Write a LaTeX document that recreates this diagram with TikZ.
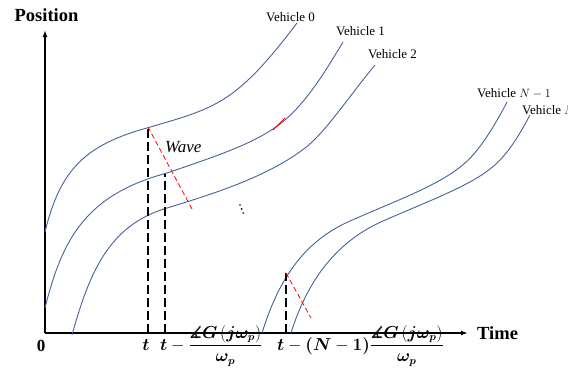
\documentclass[tikz,border=0pt]{standalone}
\usepackage{amsmath,amssymb,bm}
\usepackage{fontspec}
\setmainfont{Liberation Serif}
\usetikzlibrary{arrows.meta}
\definecolor{vblue}{RGB}{68,98,152}
\begin{document}
\begin{tikzpicture}[x=1pt,y=-1pt,
  veh/.style={vblue, line width=0.9pt},
  guide/.style={black, line width=1.5pt, dash pattern=on 9pt off 4pt},
  wavedash/.style={red, line width=0.8pt, dash pattern=on 5pt off 3pt},
  axisline/.style={black, line width=1.5pt, -{Latex[length=7pt,width=5pt]}},
  vlabel/.style={font=\fontsize{13}{15}\selectfont, inner sep=0pt, anchor=base west},
  mlabel/.style={font=\fontsize{16}{19}\selectfont, inner sep=0pt},
  axlabel/.style={font=\fontsize{18.5}{22}\selectfont\bfseries, inner sep=0pt}]
\useasboundingbox (0,0) rectangle (568,372);

% axes
\coordinate (O) at (45,333);
\coordinate (Ytop) at (45,30);
\coordinate (Xend) at (468,333);
\draw[axisline] (O) -- (Ytop);
\draw[axisline] (O) -- (Xend);
\node[axlabel, anchor=base] (pos) at (46.5,21) {Position};
\node[axlabel, anchor=base west] (time) at (477,339) {Time};
\node[font=\fontsize{17}{20}\selectfont\bfseries, inner sep=0pt, anchor=base] (zero) at (41,351) {0};

% vehicle trajectories
\draw[veh] (45,232) .. controls (60,170) and (85,145) .. (147,128)
                    .. controls (215,108) and (235,105) .. (297,23);
\draw[veh] (45,308) .. controls (62,240) and (85,195) .. (167,173)
                    .. controls (220,155) and (255,143) .. (280,124)
                    .. controls (305,105) and (325,72) .. (343,42);
\draw[veh] (72,335) .. controls (90,270) and (110,225) .. (167,208)
                    .. controls (220,192) and (270,175) .. (305,148)
                    .. controls (325,133) and (350,95) .. (375,65);
\draw[veh] (262,333) .. controls (277,285) and (300,243) .. (350,221)
                     .. controls (400,199) and (440,185) .. (465,163)
                     .. controls (480,150) and (495,125) .. (507,102);
\draw[veh] (291,333) .. controls (306,285) and (333,243) .. (383,221)
                     .. controls (433,199) and (473,185) .. (496,164)
                     .. controls (510,151) and (521,132) .. (530,115);

% vehicle labels
\node[vlabel] (v0) at (266,21) {Vehicle 0};
\node[vlabel] (v1) at (336,35) {Vehicle 1};
\node[vlabel] (v2) at (368,58) {Vehicle 2};
\node[vlabel] (vn1) at (477,97) {Vehicle $N-1$};
\node[vlabel] (vn) at (522,114) {Vehicle $N$};

% dashed time markers
\coordinate (a0) at (148,333); \coordinate (a1) at (148,127);
\coordinate (b0) at (165,333); \coordinate (b1) at (165,174);
\coordinate (c0) at (286,333); \coordinate (c1) at (286,273);
\draw[guide] (a0) -- (a1);
\draw[guide] (b0) -- (b1);
\draw[guide] (c0) -- (c1);

% wave lines
\coordinate (w1) at (192,209);
\coordinate (w2) at (311,318);
\draw[wavedash] (a1) -- (w1);
\draw[wavedash] (c1) -- (w2);
\coordinate (r0) at (273,130); \coordinate (r1) at (285,118);
\draw[red, line width=0.9pt] (r0) -- (r1);

\node[font=\fontsize{17}{20}\selectfont\itshape, inner sep=0pt, anchor=base west] (wave) at (165,152) {Wave};
\fill (240,205) circle (0.9pt) (241.6,209) circle (0.9pt) (243.2,213) circle (0.9pt);

% time labels
\node[mlabel, anchor=base] (lt) at (146,350) {$\bm{t}$};
\node[mlabel, anchor=base west] (lt2) at (160,350) {$\bm{t}-\dfrac{\bm{\measuredangle G\left(j\omega_p\right)}}{\bm{\omega_p}}$};
\node[mlabel, anchor=base west] (lt3) at (277,350) {$\bm{t}-\bm{(N}-\bm{1)}\dfrac{\bm{\measuredangle G\left(j\omega_p\right)}}{\bm{\omega_p}}$};
\end{tikzpicture}
\end{document}
